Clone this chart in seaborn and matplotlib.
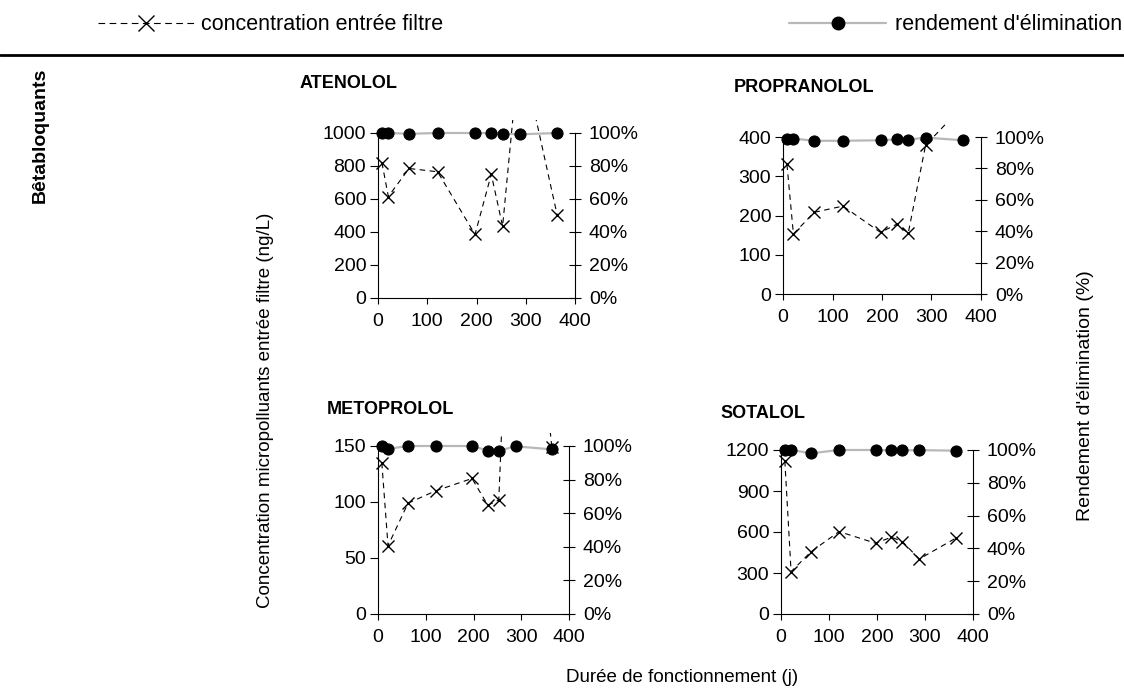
import numpy as np
import pandas as pd
import matplotlib
matplotlib.use("Agg")
import matplotlib.pyplot as plt
import seaborn as sns
from matplotlib.ticker import PercentFormatter
from matplotlib.transforms import Bbox, TransformedBbox
from matplotlib.lines import Line2D

# ---------------- data ----------------
days = [8, 21, 63, 121, 197, 230, 253, 288, 364]

atenolol_conc = [820, 615, 785, 765, 385, 750, 435, 1530, 500]
atenolol_rend = [100, 100, 99.5, 100, 100, 100, 99.6, 99.2, 100]

propranolol_conc = [330, 153, 208, 224, 157, 178, 155, 379, 480]
propranolol_rend = [98.9, 99.0, 97.6, 97.6, 97.9, 98.5, 98.3, 99.6, 97.9]

metoprolol_conc = [135, 61, 99, 110, 121, 97, 102, 470, 149]
metoprolol_rend = [100, 98.3, 100, 100, 100, 97.3, 97.2, 99.8, 98.0]

sotalol_conc = [1120, 310, 457, 603, 518, 562, 530, 402, 555]
sotalol_rend = [100, 100, 98.0, 100, 100, 99.8, 99.8, 99.9, 99.6]

names = ["ATENOLOL", "PROPRANOLOL", "METOPROLOL", "SOTALOL"]
x_ticks = [0, 100, 200, 300, 400]
pct_ticks = [0, 20, 40, 60, 80, 100]

# ---------------- figure ----------------
W, H = 1124, 693
sns.set_theme(style="ticks")
plt.rcParams["font.family"] = ["Liberation Sans", "DejaVu Sans"]
plt.rcParams["axes.linewidth"] = 0.8
for k in ["text.color", "axes.labelcolor", "xtick.color", "ytick.color", "axes.edgecolor"]:
    plt.rcParams[k] = "black"

fig = plt.figure(figsize=(W / 100, H / 100), dpi=100)


def px_axes(l, t, r, b):
    return fig.add_axes([l / W, 1 - b / H, (r - l) / W, (b - t) / H])


panels = [
    (names[0], atenolol_conc, atenolol_rend, 1000, 200, (378, 133, 575, 298), (300, 84)),
    (names[1], propranolol_conc, propranolol_rend, 400, 100, (783, 137, 981, 294), (734, 88)),
    (names[2], metoprolol_conc, metoprolol_rend, 150, 50, (378, 446, 569, 614), (327, 410)),
    (names[3], sotalol_conc, sotalol_rend, 1200, 300, (781, 450, 973, 614), (720, 414)),
]

TICK_FS = 14
for name, conc, rend, ymax, ystep, box, tpos in panels:
    ax = px_axes(*box)
    df = pd.DataFrame({"jour": days, "conc": conc, "rend": rend})
    sns.lineplot(data=df, x="jour", y="conc", ax=ax, color="black",
                 linestyle=(0, (5, 4)), linewidth=0.8, marker="x",
                 markersize=8, markeredgecolor="black", markeredgewidth=1.0,
                 errorbar=None, sort=False)
    for ln in ax.lines:
        ln.set_clip_box(TransformedBbox(Bbox([[-0.05, -0.05], [1.05, 1.08]]), ax.transAxes))
    ax.set_xlim(0, 400)
    ax.set_ylim(0, ymax)
    ax.set_xticks(x_ticks)
    ax.set_yticks(np.arange(0, ymax + 1, ystep))
    ax.set_xlabel("")
    ax.set_ylabel("")
    ax.spines["top"].set_visible(False)
    ax.spines["right"].set_visible(False)
    ax.tick_params(axis="y", direction="out", length=5.5, width=0.8,
                   labelsize=TICK_FS, pad=3)
    ax.tick_params(axis="x", direction="out", length=4, width=0.8,
                   labelsize=TICK_FS, pad=7)

    ax2 = ax.twinx()
    sns.lineplot(data=df, x="jour", y="rend", ax=ax2, color="#b8b8b8",
                 linewidth=1.6, marker="o", markersize=8,
                 markerfacecolor="black", markeredgecolor="black",
                 errorbar=None, sort=False, clip_on=False)
    ax2.set_ylim(0, 100)
    ax2.set_yticks(pct_ticks)
    ax2.yaxis.set_major_formatter(PercentFormatter(100, decimals=0))
    ax2.set_ylabel("")
    for s in ["top", "left", "bottom"]:
        ax2.spines[s].set_visible(False)
    ax2.tick_params(axis="y", direction="inout", length=8, width=0.8,
                    labelsize=TICK_FS, pad=6)

    fig.text(tpos[0] / W, 1 - tpos[1] / H, name, fontsize=13,
             fontweight="bold", ha="left", va="center")

# ---------------- labels ----------------
fig.text(40 / W, 1 - 68 / H, "Bêtabloquants", rotation=90, fontsize=14,
         fontweight="bold", ha="center", va="top")
fig.text(265 / W, 1 - 410 / H, "Concentration micropolluants entrée filtre (ng/L)",
         rotation=90, fontsize=13.5, ha="center", va="center")
fig.text(1085 / W, 1 - 396 / H, "Rendement d'élimination (%)", rotation=90,
         fontsize=14, ha="center", va="center")
fig.text(682 / W, 1 - 678 / H, "Durée de fonctionnement (j)", fontsize=13.5,
         ha="center", va="center")

# ---------------- header legend ----------------
h1 = Line2D([], [], color="black", linestyle=(0, (6, 4)), linewidth=0.8,
            marker="x", markersize=11, markeredgewidth=1.0)
h2 = Line2D([], [], color="#b8b8b8", linewidth=1.6, marker="o", markersize=9,
            markerfacecolor="black", markeredgecolor="black")
leg1 = fig.legend([h1], ["concentration entrée filtre"], loc="center left",
                  bbox_to_anchor=(98 / W, 1 - 25 / H), frameon=False,
                  fontsize=15.5, handlelength=4.5, handletextpad=0.3,
                  borderpad=0, borderaxespad=0, numpoints=1)
leg2 = fig.legend([h2], ["rendement d'élimination"], loc="center right",
                  bbox_to_anchor=(1122 / W, 1 - 25 / H), frameon=False,
                  fontsize=15.5, handlelength=4.5, handletextpad=0.4,
                  borderpad=0, borderaxespad=0, numpoints=1)
fig.add_artist(Line2D([0, 1], [1 - 55 / H, 1 - 55 / H], color="black",
                      linewidth=2, transform=fig.transFigure))

fig.savefig("out.png", dpi=100)
